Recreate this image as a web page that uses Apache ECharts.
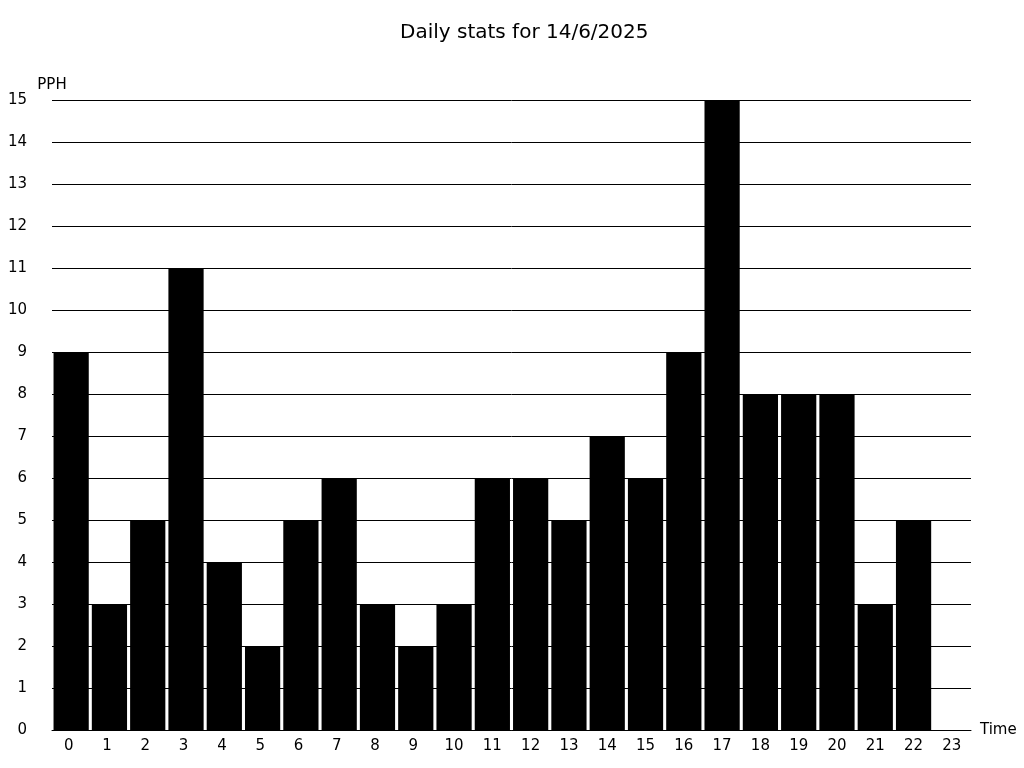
<!DOCTYPE html>
<html><head><meta charset="utf-8">
<script src="https://cdn.jsdelivr.net/npm/echarts@6/dist/echarts.min.js"></script>
<style>html,body{margin:0;padding:0;background:#fff}#c{width:1024px;height:768px}</style>
</head><body><div id="c"></div>
<script>
var categories = ['0','1','2','3','4','5','6','7','8','9','10','11','12','13','14','15','16','17','18','19','20','21','22','23'];
var values = [9,3,5,11,4,2,5,6,3,2,3,6,6,5,7,6,9,15,8,8,8,3,5,0];
var chart = echarts.init(document.getElementById('c'));
var font = 'DejaVu Sans';
chart.setOption({
  animation: false,
  backgroundColor: '#fff',
  title: {text: 'Daily stats for 14/6/2025', left: 395, top: 18,
    textStyle: {fontFamily: font, fontSize: 20, fontWeight: 'normal', color: '#000'}},
  grid: {left: 52, right: 53, top: 100, bottom: 38, containLabel: false},
  xAxis: {type: 'category', data: categories, name: 'Time', nameGap: 9,
    nameTextStyle: {fontFamily: font, fontSize: 15, color: '#000', padding: [2, 0, 0, 0]},
    axisLine: {lineStyle: {color: '#000', width: 1}}, axisTick: {show: false},
    axisLabel: {fontFamily: font, fontSize: 15, color: '#000', margin: 9,
      formatter: function (v) { return v.length === 1 ? v + ' ' : v; }}},
  yAxis: {type: 'value', min: 0, max: 15, interval: 1, name: 'PPH',
    nameGap: 7, nameTextStyle: {fontFamily: font, fontSize: 15, color: '#000', align: 'center'},
    axisLine: {show: false}, axisTick: {show: false},
    axisLabel: {fontFamily: font, fontSize: 15, color: '#000', margin: 25, padding: [2, 0, 0, 0]},
    splitLine: {lineStyle: {color: '#000', width: 1}}},
  series: [{type: 'bar', data: values, barCategoryGap: '8%', itemStyle: {color: '#000'}, z: 1}]
});
</script></body></html>
